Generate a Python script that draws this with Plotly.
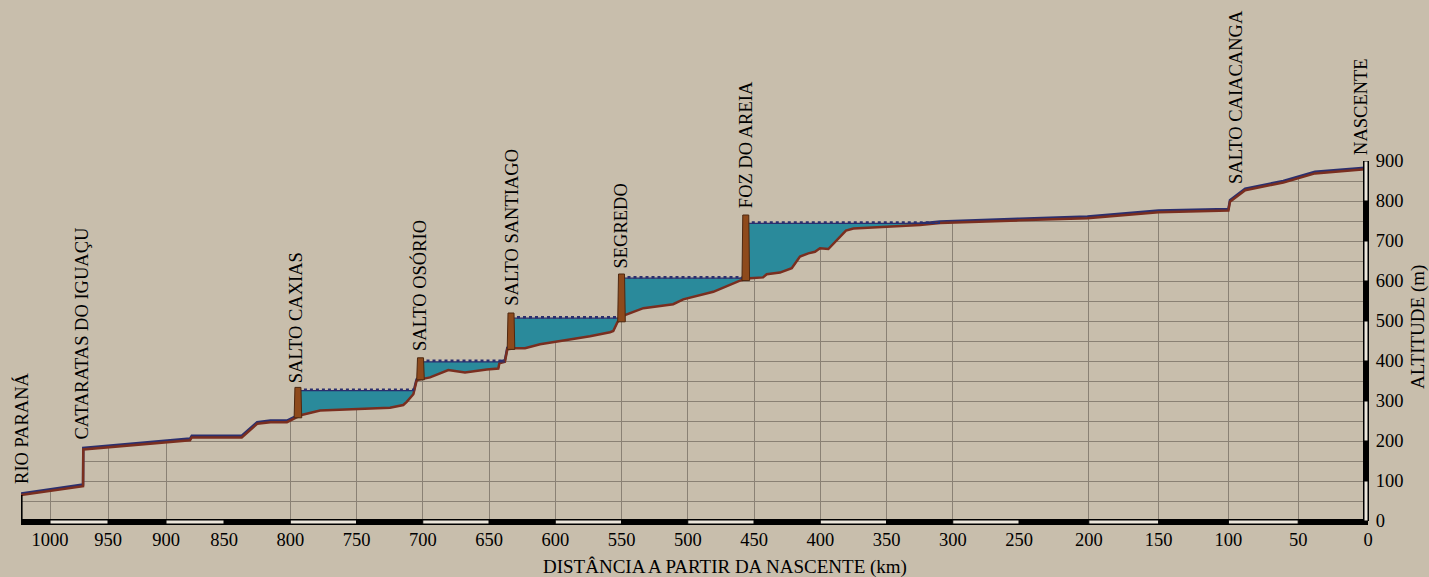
import plotly.graph_objects as go
import numpy as np

# ---------------- data ----------------
# river profile: distance from source (km) and altitude (m), downstream -> source
profile_km = [1025, 971.5, 971.3, 879.3, 877.8, 836.6, 825, 815, 802.5, 796.4,
              791.5, 777.5, 749.9, 724.7, 714.7, 712.1, 707.1, 704.7, 703.6,
              699.6, 694.5, 680.7, 668.1, 651.7, 643, 642.2, 638, 636.2,
              631, 622.8, 611.5, 592.6, 573.8, 558.7, 556.2, 552.9,
              547.4, 533.5, 511, 503.4, 480.7, 460.6,
              453, 443.2, 440.4, 430.4, 421.5, 415.3, 409, 404, 400.2, 393.9,
              387.6, 380.6, 375, 349.8, 324.7, 309.6,
              201, 150, 100, 98.9, 88, 60.7, 38, 0]
profile_alt = [65, 87, 179, 202, 209, 209, 243, 247, 247, 258,
               265, 276, 279, 283, 290, 298, 317, 350, 353,
               355, 359, 377.5, 371, 379, 381, 394, 398, 429,
               432, 432, 442, 452, 462, 472, 475, 498,
               515, 532, 542, 554, 573, 601,
               607, 609, 617, 621, 632, 661, 669, 673, 682, 680,
               701, 726, 731, 736, 740, 745,
               757, 772, 776, 798, 827, 846, 869, 880]

# dams and reservoirs
dam_km = [794.2, 701.7, 633.4, 550.0, 456.2]
dam_top = [334, 408, 520, 617.5, 765]
dam_base = [258, 353, 429, 498, 601]
res_level = [326, 398, 507, 607, 744]
res_end_km = [706.5, 638, 550.0, 456.2, 309.6]

# place labels
label_text = ["RIO PARANÁ", "CATARATAS DO IGUAÇU", "SALTO CAXIAS", "SALTO OSÓRIO",
              "SALTO SANTIAGO", "SEGREDO", "FOZ DO AREIA", "SALTO CAIACANGA", "NASCENTE"]
label_km = [1024.6, 972, 795.9, 702, 632.6, 550.4, 456, 94.6, 5.4]
label_alt = [87.5, 200, 340, 419, 532, 627.5, 776, 837.5, 910]

# axis ticks
x_ticks = [1000, 950, 900, 850, 800, 750, 700, 650, 600, 550, 500, 450, 400,
           350, 300, 250, 200, 150, 100, 50, 0]
y_ticks = [0, 100, 200, 300, 400, 500, 600, 700, 800, 900]
x_title = "DISTÂNCIA A PARTIR DA NASCENTE (km)"
y_title = "ALTITUDE (m)"

# ---------------- styling ----------------
BG = "#c8beac"
GRID = "#8a8174"
TEAL = "#2a8a9b"
BROWN = "#7a2e1f"
NAVY = "#2b2f6e"
DAM_FILL = "#8e4a1c"
DAM_LINE = "#4e2810"
BAR_LIGHT = "#ebe5da"
FONT = "Liberation Serif, Times New Roman, Times, serif"
FS = 18.5

# broken (piece-wise) distance scale of the original drawing
SEG_RANGES = [(1025, 850), (850, 250), (250, 0)]
SEG_PX_PER_KM = [1.16, 1.325, 1.396]
Y_MAX = 900

W, H = 1429, 577
ML, MR, MT, MB = 21, 61, 161, 56
PX_PER_M = (H - MT - MB) / Y_MAX

seg_w = [(a - b) * s for (a, b), s in zip(SEG_RANGES, SEG_PX_PER_KM)]
tot = sum(seg_w)
edges = np.cumsum([0] + seg_w) / tot
axis_names = ["x", "x2", "x3"]


def axis_for(km):
    for name, (a, b) in zip(axis_names, SEG_RANGES):
        if b <= km <= a:
            return name
    return "x"


km = np.array(profile_km, dtype=float)
alt = np.array(profile_alt, dtype=float)
km_inc = km[::-1]
alt_inc = alt[::-1]

fig = go.Figure()

# reservoir polygons and surfaces (shared for every axis)
poly_x, poly_y, surf_x, surf_y = [], [], [], []
for d, lvl, e in zip(dam_km, res_level, res_end_km):
    inside = (km < d) & (km > e)
    bed_at_dam = float(np.interp(d, km_inc, alt_inc))
    bed_at_end = float(np.interp(e, km_inc, alt_inc))
    xs = [d, d] + list(km[inside]) + [e, e]
    ys = [lvl, bed_at_dam] + list(alt[inside]) + [min(bed_at_end, lvl), lvl]
    poly_x += xs + [None]
    poly_y += ys + [None]
    surf_x += [d, e, None]
    surf_y += [lvl, lvl, None]

for i, xa in enumerate(axis_names):
    # ground colour above the profile (hides grid over the sky)
    fig.add_trace(go.Scatter(
        x=list(km) + [km[-1], km[0]], y=list(alt) + [Y_MAX, Y_MAX],
        fill="toself", fillcolor=BG, mode="lines", line=dict(width=0),
        xaxis=xa, yaxis="y", hoverinfo="skip", showlegend=False))
    # river water line (navy) on top of bed
    fig.add_trace(go.Scatter(
        x=km, y=alt + 4, mode="lines", line=dict(color=NAVY, width=2.5),
        xaxis=xa, yaxis="y", hoverinfo="skip", showlegend=False))
    # reservoirs
    fig.add_trace(go.Scatter(
        x=poly_x, y=poly_y, fill="toself", fillcolor=TEAL, mode="lines",
        line=dict(width=0), xaxis=xa, yaxis="y", hoverinfo="skip", showlegend=False))
    # river bed
    fig.add_trace(go.Scatter(
        x=km, y=alt, mode="lines", line=dict(color=BROWN, width=2.5),
        xaxis=xa, yaxis="y", hoverinfo="skip", showlegend=False))
    # reservoir surfaces (wavy look)
    fig.add_trace(go.Scatter(
        x=surf_x, y=surf_y, mode="lines", line=dict(color=NAVY, width=1.2),
        xaxis=xa, yaxis="y", hoverinfo="skip", showlegend=False, connectgaps=False))
    fig.add_trace(go.Scatter(
        x=surf_x, y=[v + 2.5 if v is not None else None for v in surf_y], mode="lines",
        line=dict(color=NAVY, width=2.4, dash="dot"),
        xaxis=xa, yaxis="y", hoverinfo="skip", showlegend=False, connectgaps=False))

shapes = []
# dams
for d, t, b in zip(dam_km, dam_top, dam_base):
    shapes.append(dict(type="path", xref=axis_for(d), yref="y", xsizemode="pixel",
                       xanchor=d, path=f"M-3.8,{b} L-3,{t} L3,{t} L3.8,{b} Z",
                       fillcolor=DAM_FILL, line=dict(color=DAM_LINE, width=1),
                       layer="above"))
# left boundary line
shapes.append(dict(type="line", xref="paper", yref="y", xsizemode="pixel", xanchor=0,
                   x0=0.8, x1=0.8, y0=0, y1=profile_alt[0],
                   line=dict(color="black", width=1.6), layer="above"))
# bottom scale bar
shapes.append(dict(type="rect", xref="paper", yref="paper", ysizemode="pixel", yanchor=0,
                   x0=0, x1=1, y0=-4, y1=2, fillcolor="black", line=dict(width=0),
                   layer="above"))
for k in range(0, 21):
    a, b = 50 * k, 50 * k + 50
    if k % 2 == 1:
        shapes.append(dict(type="rect", xref=axis_for((a + b) / 2), yref="paper",
                           ysizemode="pixel", yanchor=0, x0=a, x1=b, y0=-3, y1=1,
                           fillcolor=BAR_LIGHT, line=dict(color="black", width=1),
                           layer="above"))
# right altitude scale bar
shapes.append(dict(type="rect", xref="paper", yref="y", xsizemode="pixel", xanchor=1,
                   x0=-5, x1=1, y0=0, y1=Y_MAX, fillcolor="black", line=dict(width=0),
                   layer="above"))
for k in range(0, 9):
    if k % 2 == 0:
        shapes.append(dict(type="rect", xref="paper", yref="y", xsizemode="pixel", xanchor=1,
                           x0=-4, x1=0, y0=100 * k, y1=100 * k + 100,
                           fillcolor=BAR_LIGHT, line=dict(color="black", width=1),
                           layer="above"))

annotations = []
for t, lk, la in zip(label_text, label_km, label_alt):
    # labels above the axis top are anchored at the top and shifted up
    ya = min(la, Y_MAX)
    annotations.append(dict(text=t, xref=axis_for(lk), yref="y", x=lk, y=ya,
                            yshift=(la - ya) * PX_PER_M,
                            textangle=-90, xanchor="center", yanchor="bottom",
                            showarrow=False, font=dict(family=FONT, size=FS, color="black")))
annotations.append(dict(text=x_title, xref="x2", yref="paper", x=472, y=0, yshift=-46,
                        xanchor="center", yanchor="middle", showarrow=False,
                        font=dict(family=FONT, size=19, color="black")))
annotations.append(dict(text=y_title, xref="paper", yref="y", x=1, xshift=50, y=485,
                        textangle=-90, xanchor="center", yanchor="middle", showarrow=False,
                        font=dict(family=FONT, size=19, color="black")))

layout = dict(
    width=W, height=H, paper_bgcolor=BG, plot_bgcolor=BG,
    margin=dict(l=ML, r=MR, t=MT, b=MB, pad=0, autoexpand=False),
    showlegend=False, shapes=shapes, annotations=annotations,
    yaxis=dict(range=[0, Y_MAX], anchor="x3", side="right", tickmode="array",
               tickvals=y_ticks, ticktext=[str(v) for v in y_ticks],
               ticks="outside", ticklen=3, tickcolor="rgba(0,0,0,0)",
               showgrid=True, gridcolor=GRID, gridwidth=1, zeroline=False, showline=False,
               automargin=False,
               minor=dict(dtick=50, tick0=0, showgrid=True, gridcolor=GRID, gridwidth=1),
               tickfont=dict(family=FONT, size=FS, color="black"), fixedrange=True),
)
for i, (name, (a, b)) in enumerate(zip(axis_names, SEG_RANGES)):
    key = "xaxis" if i == 0 else f"xaxis{i + 1}"
    if i == 0:
        tv = [v for v in x_ticks if b < v <= a]
    else:
        tv = [v for v in x_ticks if b <= v <= a and not (i == 1 and v == 250)]
    layout[key] = dict(range=[a, b], domain=[edges[i], edges[i + 1]], anchor="y",
                       tickmode="array", tickvals=tv, ticktext=[str(v) for v in tv],
                       ticks="outside", ticklen=2, tickcolor="rgba(0,0,0,0)",
                       showgrid=True, gridcolor=GRID, gridwidth=1, zeroline=False,
                       showline=False, automargin=False,
                       tickfont=dict(family=FONT, size=FS, color="black"), fixedrange=True)

fig.update_layout(**layout)
# the page body must not add its default 8px margin around the figure
fig.write_html("out.html", config={"displayModeBar": False, "staticPlot": True},
               post_script="document.body.style.margin='0';document.body.style.overflow='hidden';")
